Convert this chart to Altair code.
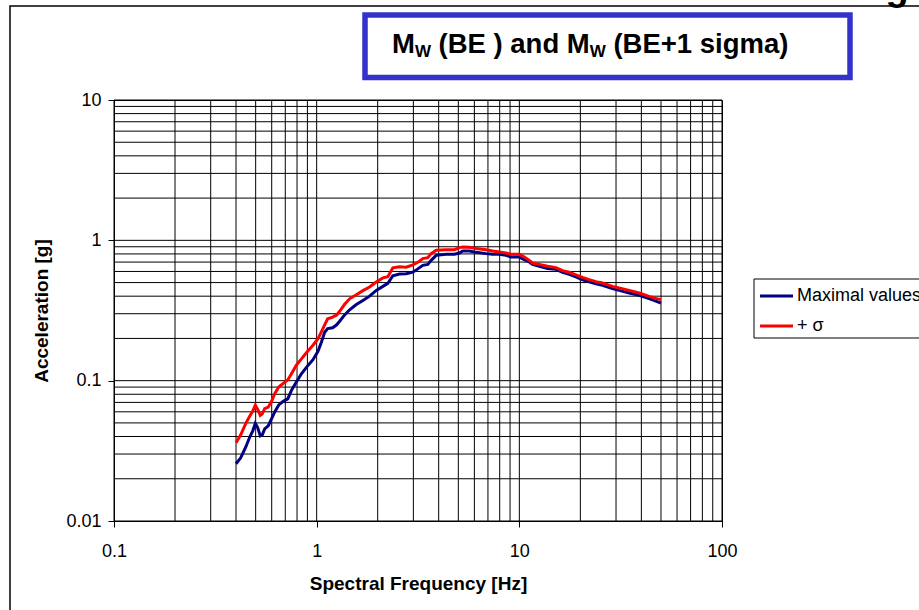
import altair as alt
import pandas as pd

# ---------------- data ----------------
freq = [0.400, 0.422, 0.447, 0.468, 0.484, 0.498, 0.512, 0.527, 0.539, 0.554,
        0.577, 0.597, 0.621, 0.650, 0.684, 0.720, 0.751, 0.794, 0.841, 0.896,
        0.959, 1.015, 1.055, 1.095, 1.133, 1.199, 1.255, 1.298, 1.374, 1.454,
        1.569, 1.691, 1.824, 1.968, 2.122, 2.245, 2.376, 2.564, 2.767, 2.982,
        3.155, 3.340, 3.534, 3.673, 3.888, 4.354, 4.784, 5.063, 5.256, 5.672,
        6.119, 6.855, 7.387, 7.972, 8.601, 9.100, 10.00, 10.58, 11.20, 11.63,
        12.55, 13.79, 15.16, 16.35, 17.63, 19.02, 20.50, 22.12, 23.87, 25.73,
        28.81, 31.09, 34.83, 39.00, 43.69, 47.14, 50.00]

maximal_values = [0.0256, 0.0282, 0.0337, 0.0398, 0.0439, 0.0496, 0.0461, 0.0404, 0.0411, 0.0453,
                  0.0476, 0.0530, 0.0599, 0.0672, 0.0712, 0.0742, 0.0853, 0.0977, 0.112, 0.126,
                  0.141, 0.162, 0.188, 0.221, 0.235, 0.238, 0.250, 0.265, 0.294, 0.320,
                  0.349, 0.372, 0.400, 0.440, 0.470, 0.494, 0.559, 0.576, 0.578, 0.593,
                  0.626, 0.663, 0.674, 0.720, 0.782, 0.795, 0.795, 0.812, 0.839, 0.839,
                  0.821, 0.804, 0.795, 0.795, 0.782, 0.760, 0.760, 0.729, 0.701, 0.674,
                  0.653, 0.629, 0.621, 0.592, 0.573, 0.549, 0.523, 0.506, 0.490, 0.478,
                  0.453, 0.440, 0.421, 0.406, 0.384, 0.369, 0.357]

plus_sigma = [0.0361, 0.0411, 0.0496, 0.0561, 0.0609, 0.0667, 0.0624, 0.0566, 0.0580, 0.0632,
              0.0648, 0.0704, 0.0808, 0.0900, 0.0957, 0.101, 0.112, 0.129, 0.143, 0.160,
              0.179, 0.199, 0.223, 0.250, 0.276, 0.284, 0.294, 0.312, 0.350, 0.383,
              0.409, 0.438, 0.465, 0.505, 0.540, 0.551, 0.637, 0.648, 0.644, 0.669,
              0.697, 0.741, 0.753, 0.804, 0.849, 0.858, 0.858, 0.887, 0.896, 0.892,
              0.873, 0.858, 0.839, 0.825, 0.812, 0.795, 0.795, 0.760, 0.720, 0.689,
              0.674, 0.653, 0.639, 0.608, 0.592, 0.568, 0.545, 0.525, 0.508, 0.496,
              0.470, 0.457, 0.440, 0.421, 0.399, 0.386, 0.378]

grid_x = [0.1, 0.2, 0.3, 0.4, 0.5, 0.6, 0.7, 0.8, 0.9,
          1, 2, 3, 4, 5, 6, 7, 8, 9,
          10, 20, 30, 40, 50, 60, 70, 80, 90, 100]
grid_y = [0.01, 0.02, 0.03, 0.04, 0.05, 0.06, 0.07, 0.08, 0.09,
          0.1, 0.2, 0.3, 0.4, 0.5, 0.6, 0.7, 0.8, 0.9,
          1, 2, 3, 4, 5, 6, 7, 8, 9, 10]
x_ticks = [0.1, 1, 10, 100]
y_ticks = [0.01, 0.1, 1, 10]

series_names = ["Maximal values", "+ σ"]
series_colors = ["#000080", "#FF0000"]

# ---------------- styling ----------------
FONT = "Liberation Sans, Arial, Helvetica, sans-serif"
W, H = 608, 421

xscale = alt.Scale(type="log", domain=[0.1, 100], nice=False)
yscale = alt.Scale(type="log", domain=[0.01, 10], nice=False)

xaxis = alt.Axis(values=x_ticks, format="~g", grid=False, tickSize=6, tickColor="black",
                 domainColor="black", labelFont=FONT, labelFontSize=18, labelColor="black",
                 labelPadding=15, labelFlush=False, labelOverlap=False,
                 title="Spectral Frequency [Hz]", titleFont=FONT, titleFontSize=19,
                 titleFontWeight="bold", titleColor="black", titleBaseline="middle", titleY=62)
yaxis = alt.Axis(values=y_ticks, format="~g", grid=False, tickSize=6, tickColor="black",
                 domainColor="black", labelFont=FONT, labelFontSize=18, labelColor="black",
                 labelPadding=7, labelFlush=False, labelOverlap=False,
                 title="Acceleration [g]", titleFont=FONT, titleFontSize=19,
                 titleFontWeight="bold", titleColor="black", titleBaseline="middle",
                 titleAlign="center", titleX=-73, titleY=210.5)

vgrid = alt.Chart(pd.DataFrame({"f": grid_x})).mark_rule(color="black", strokeWidth=1).encode(
    x=alt.X("f:Q", scale=xscale, axis=xaxis))
hgrid = alt.Chart(pd.DataFrame({"a": grid_y})).mark_rule(color="black", strokeWidth=1).encode(
    y=alt.Y("a:Q", scale=yscale, axis=yaxis))

df_b = pd.DataFrame({"freq": freq, "acc": maximal_values})
df_r = pd.DataFrame({"freq": freq, "acc": plus_sigma})

line_b = alt.Chart(df_b).mark_line(color=series_colors[0], strokeWidth=3).encode(
    x=alt.X("freq:Q", scale=xscale, axis=xaxis), y=alt.Y("acc:Q", scale=yscale, axis=yaxis))
line_r = alt.Chart(df_r).mark_line(color=series_colors[1], strokeWidth=3).encode(
    x=alt.X("freq:Q", scale=xscale, axis=xaxis), y=alt.Y("acc:Q", scale=yscale, axis=yaxis))

one = pd.DataFrame({"k": [0]})


def box(x, x2, y, y2, **kw):
    return alt.Chart(one).mark_rect(**kw).encode(
        x=alt.value(x), x2=alt.value(x2), y=alt.value(y), y2=alt.value(y2))


def label(txt, x, y, **kw):
    return alt.Chart(one).mark_text(text=txt, font=FONT, color="black", **kw).encode(
        x=alt.value(x), y=alt.value(y))


def seg(x, x2, y, color):
    return alt.Chart(one).mark_rule(color=color, strokeWidth=3).encode(
        x=alt.value(x), x2=alt.value(x2), y=alt.value(y))


# outer frame (plot origin is at page pixel (114, 100))
frame = box(-104, 816, -94, 520, fillOpacity=0, stroke="black", strokeWidth=1.5)

# title box with subscripts
tbox = box(251, 736, -85, -22.5, fill="white", stroke="#3333CC", strokeWidth=5.5)
tb = dict(fontWeight="bold", align="left", baseline="alphabetic")
t1 = label("M", 278, -46.7, fontSize=27.5, **tb)
t2 = label("W", 300.9, -43.2, fontSize=17, **tb)
t3 = label("(BE ) and M", 324.5, -46.7, fontSize=27.5, **tb)
t4 = label("W", 475.8, -43.2, fontSize=17, **tb)
t5 = label("(BE+1 sigma)", 499.4, -46.7, fontSize=27.5, **tb)

# legend
lbox = box(640, 830, 179, 238, fill="white", stroke="black", strokeWidth=1)
lg1 = seg(646, 679, 196, series_colors[0])
lg2 = seg(646, 679, 226, series_colors[1])
lt1 = label(series_names[0], 683, 196, fontSize=18, align="left", baseline="middle")
lt2 = label(series_names[1], 683, 226, fontSize=18, align="left", baseline="middle")

# fragment of slide text at top right
gfrag = label("g", 783, -100, fontSize=38, fontWeight="bold", align="center", baseline="alphabetic")

chart = alt.layer(
    vgrid, hgrid, line_b, line_r, frame, tbox, t1, t2, t3, t4, t5,
    lbox, lg1, lg2, lt1, lt2, gfrag
).properties(
    width=W, height=H,
    padding={"left": 114, "top": 100, "right": 197, "bottom": 89},
    autosize=alt.AutoSizeParams(type="none"),
).configure(background="white").configure_view(stroke="black", strokeWidth=1)

chart.save("out.html", embed_options={"renderer": "svg", "actions": False})
